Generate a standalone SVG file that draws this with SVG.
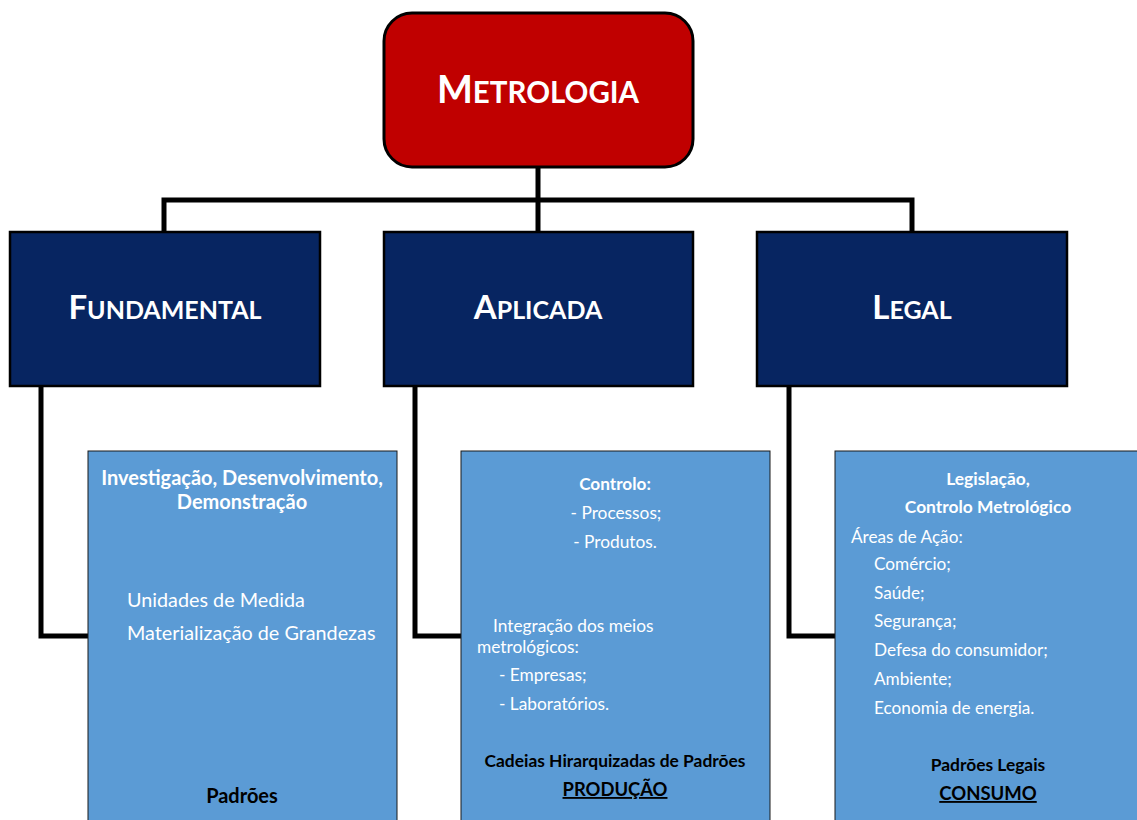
<svg xmlns="http://www.w3.org/2000/svg" width="1137" height="820" viewBox="0 0 1137 820">
<style>
text{font-family:Lato,"Open Sans","Liberation Sans",sans-serif}
.hdr{fill:#072561;stroke:#000;stroke-width:2.5}
.body{fill:#5B9BD5;stroke:#1a1a1a;stroke-width:1}
.conn{fill:none;stroke:#000;stroke-width:5}
.ttl{fill:#fff;font-weight:bold;text-anchor:middle}
.wb{fill:#fff;font-weight:bold}
.w{fill:#fff}
.kb{fill:#000;font-weight:bold}
.c{text-anchor:middle}
</style>
<g id="connectors">
<path class="conn" d="M538 167V232M164 232V200H912V232"/>
<path class="conn" d="M41 386V636H88"/>
<path class="conn" d="M415 386V636H461"/>
<path class="conn" d="M789 386V636H835"/>
</g>
<g id="metrologia">
<rect x="384" y="13" width="309" height="154" rx="28" fill="#C00000" stroke="#000" stroke-width="3"/>
<text class="ttl" x="538" y="103" font-size="29.5"><tspan font-size="38">M</tspan>ETROLOGIA</text>
</g>
<g id="fundamental">
<rect class="hdr" x="10" y="232" width="310" height="154"/>
<text class="ttl" x="165" y="319" font-size="25"><tspan font-size="33">F</tspan>UNDAMENTAL</text>
</g>
<g id="aplicada">
<rect class="hdr" x="384" y="232" width="309" height="154"/>
<text class="ttl" x="538" y="319" font-size="25"><tspan font-size="33">A</tspan>PLICADA</text>
</g>
<g id="legal">
<rect class="hdr" x="757" y="232" width="310" height="154"/>
<text class="ttl" x="912" y="319" font-size="25"><tspan font-size="33">L</tspan>EGAL</text>
</g>
<g id="fundamental-desc">
<rect class="body" x="88" y="451" width="309" height="380"/>
<text class="wb c" x="242" y="485" font-size="20">Investigação, Desenvolvimento,</text>
<text class="wb c" x="242" y="509" font-size="20">Demonstração</text>
<text class="w" x="127" y="607" font-size="19.8">Unidades de Medida</text>
<text class="w" x="127" y="640" font-size="19.8">Materialização de Grandezas</text>
<text class="kb c" x="242" y="803" font-size="20">Padrões</text>
</g>
<g id="aplicada-desc">
<rect class="body" x="461" y="451" width="309" height="380"/>
<text class="wb c" x="615" y="490" font-size="17.2">Controlo:</text>
<text class="w c" x="616" y="519" font-size="17.3">- Processos;</text>
<text class="w c" x="615" y="548" font-size="17.3">- Produtos.</text>
<text class="w" x="493" y="632" font-size="17.3">Integração dos meios</text>
<text class="w" x="477" y="653" font-size="17.3">metrológicos:</text>
<text class="w" x="499" y="681" font-size="17.3">- Empresas;</text>
<text class="w" x="499" y="710" font-size="17.3">- Laboratórios.</text>
<text class="kb c" x="615" y="767" font-size="17.4">Cadeias Hirarquizadas de Padrões</text>
<text class="kb c" x="615" y="796" font-size="18.4" text-decoration="underline">PRODUÇÃO</text>
</g>
<g id="legal-desc">
<rect class="body" x="835" y="451" width="310" height="380"/>
<text class="wb c" x="988" y="485" font-size="17.4">Legislação,</text>
<text class="wb c" x="988" y="513" font-size="17.4">Controlo Metrológico</text>
<text class="w" x="851" y="543" font-size="17.2">Áreas de Ação:</text>
<text class="w" x="874" y="570" font-size="17.2">Comércio;</text>
<text class="w" x="874" y="599" font-size="17.2">Saúde;</text>
<text class="w" x="874" y="627" font-size="17.2">Segurança;</text>
<text class="w" x="874" y="656" font-size="17.2">Defesa do consumidor;</text>
<text class="w" x="874" y="685" font-size="17.2">Ambiente;</text>
<text class="w" x="874" y="714" font-size="17.2">Economia de energia.</text>
<text class="kb c" x="988" y="771" font-size="17.4">Padrões Legais</text>
<text class="kb c" x="988" y="800" font-size="18.5" text-decoration="underline">CONSUMO</text>
</g>
</svg>
